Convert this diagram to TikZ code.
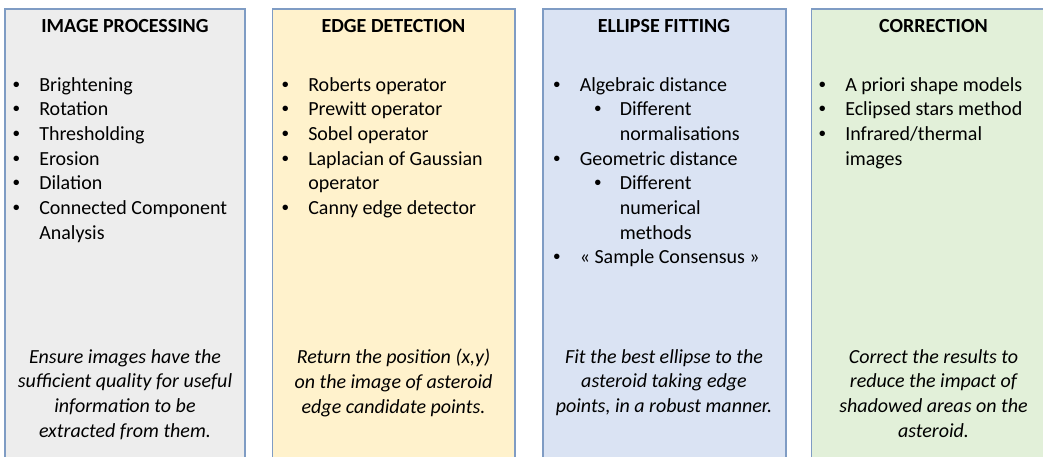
\documentclass[tikz,border=0pt]{standalone}
\usepackage{fontspec}
\setmainfont{Carlito}
\newfontfamily\dotfont{Liberation Sans}
\usetikzlibrary{positioning}

\definecolor{panelline}{HTML}{7F9CC4}
\definecolor{ipfill}{HTML}{EDEDED}
\definecolor{edfill}{HTML}{FFF2CC}
\definecolor{effill}{HTML}{DAE3F3}
\definecolor{cofill}{HTML}{E2F0D9}

% small bullet, centred on the current point
\newcommand\dotb{\makebox[0pt]{\dotfont\char"2022}}
\newcommand\bitm[1]{\dotb\hspace*{17.25pt}#1}
\newcommand\bcont[1]{\hspace*{17.25pt}#1}
\newcommand\subitm[1]{\hspace*{30.75pt}\dotb\hspace*{16.5pt}#1}
\newcommand\subcont[1]{\hspace*{47.25pt}#1}

\begin{document}
\begin{tikzpicture}[
		x=0.75pt,
		y=-0.75pt,
		panel/.style={draw=panelline, line width=1pt},
		title/.style={anchor=base, inner sep=0pt, font=\fontsize{15}{18.5}\selectfont\bfseries},
		list/.style={anchor=north west, inner sep=0pt, align=left,
			font=\fontsize{15}{18.5}\selectfont},
		caption/.style={anchor=north, inner sep=0pt, align=center,
			font=\fontsize{15}{18.5}\selectfont\itshape}
		]
		
		% frame
		\useasboundingbox (0,0) rectangle (1043,457);
		\clip (0,0) rectangle (1043,457);
		
		% panels
		\filldraw[panel, fill=ipfill] (5,9) rectangle (245,480);
		\filldraw[panel, fill=edfill] (272.5,9) rectangle (515,480);
		\filldraw[panel, fill=effill] (543,9) rectangle (786,480);
		\filldraw[panel, fill=cofill] (811.5,9) rectangle (1056,480);
		
		% titles
		\node[title] (iptitle) at (125,32) {IMAGE PROCESSING};
		\node[title] (edtitle) at (393.5,32) {EDGE DETECTION};
		\node[title] (eftitle) at (664,32) {ELLIPSE FITTING};
		\node[title] (cotitle) at (933.5,32) {CORRECTION};
		
		% method lists
		\node[list] (iplist) at (16,77) {%
			\bitm{Brightening}\\
			\bitm{Rotation}\\
			\bitm{Thresholding}\\
			\bitm{Erosion}\\
			\bitm{Dilation}\\
			\bitm{Connected Component}\\
			\bcont{Analysis}};
		\node[list] (edlist) at (285,77) {%
			\bitm{Roberts operator}\\
			\bitm{Prewitt operator}\\
			\bitm{Sobel operator}\\
			\bitm{Laplacian of Gaussian}\\
			\bcont{operator}\\
			\bitm{Canny edge detector}};
		\node[list] (eflist) at (556.5,77) {%
			\bitm{Algebraic distance}\\
			\subitm{Different}\\
			\subcont{normalisations}\\
			\bitm{Geometric distance}\\
			\subitm{Different}\\
			\subcont{numerical}\\
			\subcont{methods}\\
			\bitm{« Sample Consensus »}};
		\node[list] (colist) at (822,77) {%
			\bitm{A priori shape models}\\
			\bitm{Eclipsed stars method}\\
			\bitm{Infrared/thermal}\\
			\bcont{images}};
		
		% goals
		\node[caption] (ipgoal) at (125,349) {Ensure images have the\\
			sufficient quality for useful\\
			information to be\\
			extracted from them.};
		\node[caption] (edgoal) at (393.5,349) {Return the position (x,y)\\
			on the image of asteroid\\
			edge candidate points.};
		\node[caption] (efgoal) at (664,349) {Fit the best ellipse to the\\
			asteroid taking edge\\
			points, in a robust manner.};
		\node[caption] (cogoal) at (933.5,349) {Correct the results to\\
			reduce the impact of\\
			shadowed areas on the\\
			asteroid.};
	\end{tikzpicture}
\end{document}
